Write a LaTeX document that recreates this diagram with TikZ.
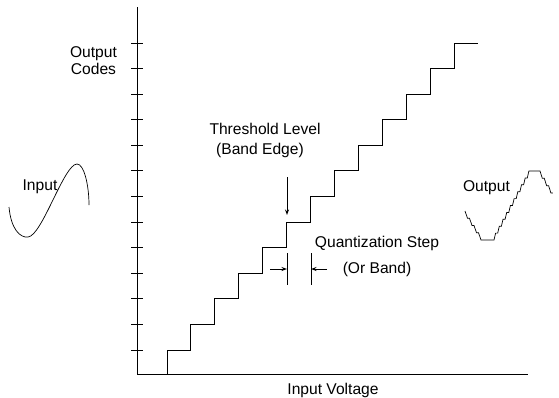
\documentclass[tikz,border=0pt]{standalone}
\usepackage{fontspec}
\setmainfont{Liberation Sans}
\usetikzlibrary{arrows.meta}
\begin{document}
\begin{tikzpicture}[x=1pt,y=-1pt,line width=0.9pt,line join=miter,
  lbl/.style={font=\fontsize{15.6}{17}\selectfont,inner sep=0pt,anchor=base},
  tipped/.style={-{Stealth[length=5.5pt,width=4pt]}},
  wave/.style={line width=0.7pt}]
\useasboundingbox (0,0) rectangle (559,397);
% axes
\coordinate (ytop) at (137,7);
\coordinate (origin) at (137,374);
\coordinate (xend) at (528,374);
\draw (ytop) -- (origin) -- (xend);
% ticks
\foreach \k in {0,...,12} \draw (131,350-25.58*\k) -- (143,350-25.58*\k);
% staircase
\draw (origin) -- (167,374) -- (167,350)
  \foreach \k in {1,...,12} { -- ++(23.92,0) -- ++(0,-25.58)} -- ++(24,0);
% threshold arrow
\coordinate (thA) at (287,177);
\coordinate (thB) at (287,215);
\draw[tipped] (thA) -- (thB);
% quantization step dimension
\coordinate (d1t) at (287,253); \coordinate (d1b) at (287,285);
\coordinate (d2t) at (311,253); \coordinate (d2b) at (311,285);
\draw (d1t) -- (d1b);
\draw (d2t) -- (d2b);
\coordinate (aL) at (270,269); \coordinate (aLt) at (287,269);
\coordinate (aR) at (327,269); \coordinate (aRt) at (311,269);
\draw[tipped] (aL) -- (aLt);
\draw[tipped] (aR) -- (aRt);
% labels
\node[lbl] (oc1) at (93.5,57) {Output};
\node[lbl] (oc2) at (93.5,74) {Codes};
\node[lbl] (th1) at (265,134) {Threshold Level};
\node[lbl] (th2) at (260,154) {(Band Edge)};
\node[lbl] (qs1) at (377,247) {Quantization Step};
\node[lbl] (qs2) at (377,273) {(Or Band)};
\node[lbl] (iv) at (333,394) {Input Voltage};
\node[lbl] (inp) at (40,190) {Input};
\node[lbl] (outp) at (486.5,191) {Output};
% input sine
\draw[wave] (9,207) .. controls (11,229) and (20,238) .. (28,237)
  .. controls (42,236) and (64,164) .. (77,164)
  .. controls (84,164) and (89,185) .. (89,205);
% output staircase wave
\draw[wave] (465,211) \foreach \i in {1,...,4} { -- ++(2.5,7.25) -- ++(2,0)}
  -- (494,240) \foreach \i in {1,...,10} { -- ++(1.6,-6.9) -- ++(2.1,0)}
  -- (540,171) \foreach \i in {1,...,3} { -- ++(2.3,7.33) -- ++(2,0)};
\end{tikzpicture}
\end{document}
